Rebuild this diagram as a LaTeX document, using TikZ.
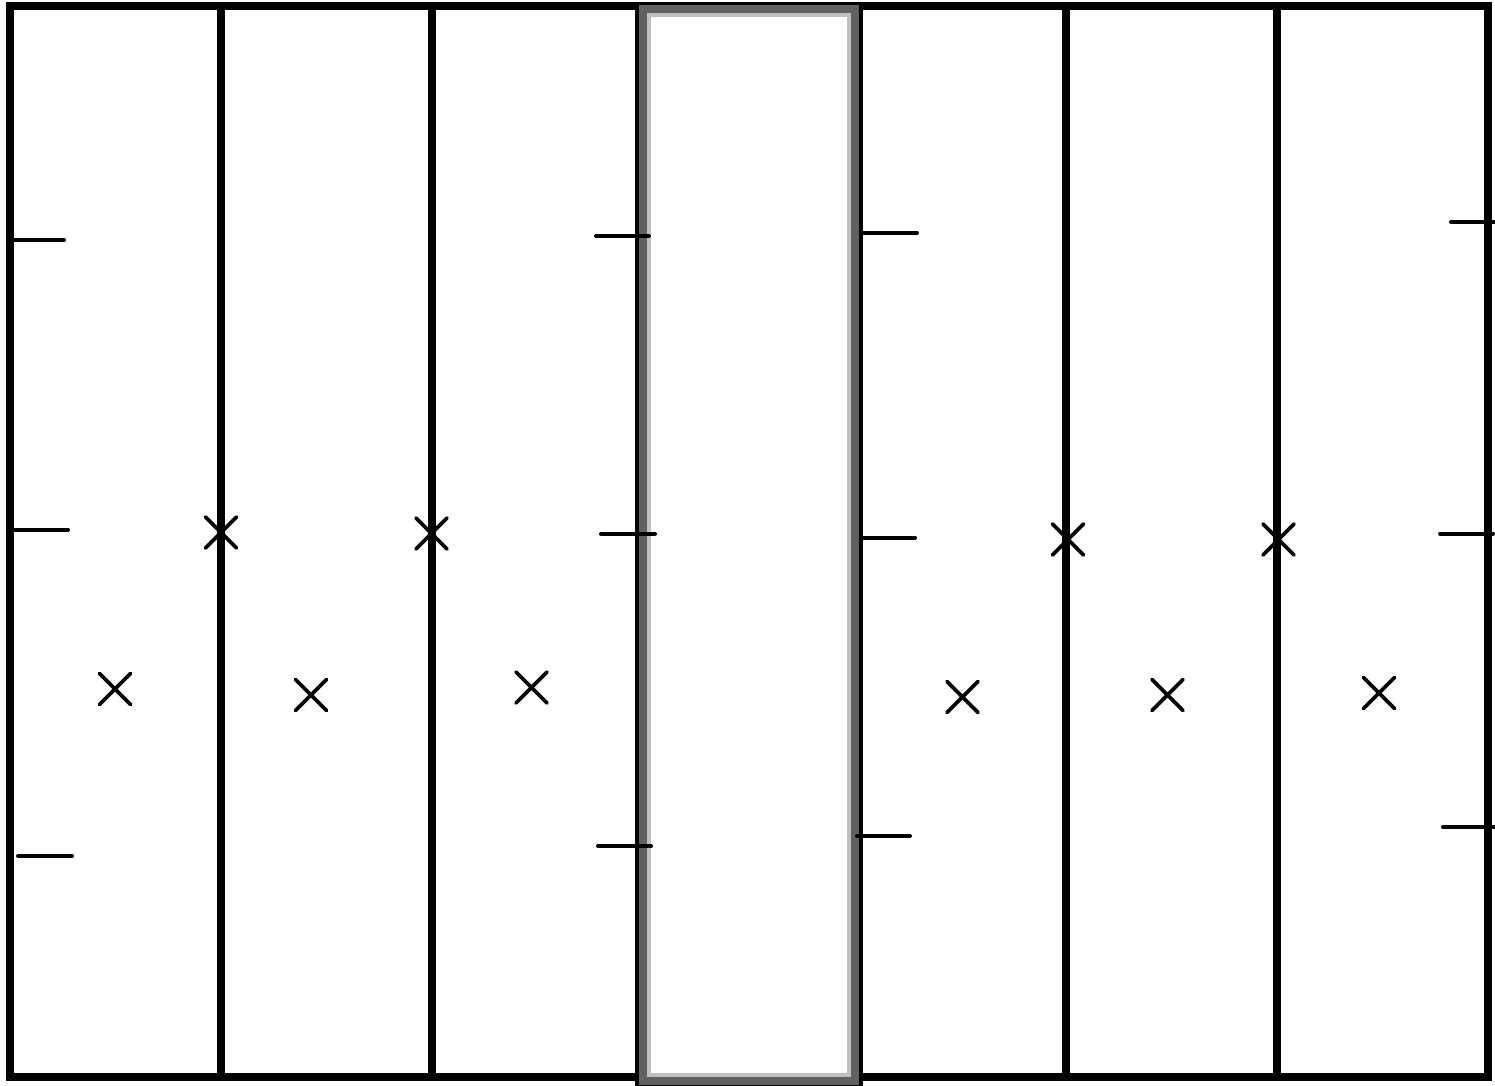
\documentclass[tikz,border=0pt]{standalone}
\begin{document}
\begin{tikzpicture}[x=0.5pt,y=-0.5pt,
  frameline/.style={line width=4pt,draw=black,line cap=rect},
  tickline/.style={line width=2pt,draw=black,line cap=round},
  markline/.style={line width=1.9pt,draw=black,line cap=round},
  xmark/.pic={\draw[markline] (-15.5,-15.5) -- (15.5,15.5) (-15.5,15.5) -- (15.5,-15.5);}]
\useasboundingbox (0,0) rectangle (1495,1086);
\fill[white] (0,0) rectangle (1495,1086);
% outer frame and walls
\draw[frameline] (637,6) -- (10,6) -- (10,1077) -- (637,1077);
\draw[frameline] (861,6) -- (1487.5,6) -- (1487.5,1077) -- (861,1077);
\draw[frameline,line cap=butt] (221,6) -- (221,1077);
\draw[frameline,line cap=butt] (432,6) -- (432,1077);
\draw[frameline,line cap=butt] (1066,6) -- (1066,1077);
\draw[frameline,line cap=butt] (1277,6) -- (1277,1077);
% middle box
\fill[black] (635,2) rectangle (863,1086);
\fill[black!62] (639,5) rectangle (859,1085);
\fill[black!25] (647,13) rectangle (851,1077);
\fill[white] (651,17.5) rectangle (847,1073);
% ticks
\coordinate (t1) at (14,240);   \coordinate (t1e) at (64,240);
\coordinate (t2) at (14,529.5); \coordinate (t2e) at (68,529.5);
\coordinate (t3) at (18,856);   \coordinate (t3e) at (72,856);
\coordinate (t4) at (596,236);  \coordinate (t4e) at (649,236);
\coordinate (t5) at (601,533.5);\coordinate (t5e) at (655,533.5);
\coordinate (t6) at (598,846);  \coordinate (t6e) at (651,846);
\coordinate (t7) at (863,232.5);\coordinate (t7e) at (917,232.5);
\coordinate (t8) at (863,537.5);\coordinate (t8e) at (915,537.5);
\coordinate (t9) at (857,836);  \coordinate (t9e) at (910,836);
\coordinate (t10) at (1451,222);\coordinate (t10e) at (1495,222);
\coordinate (t11) at (1440,533.5);\coordinate (t11e) at (1493,533.5);
\coordinate (t12) at (1443,827);\coordinate (t12e) at (1495,827);
\foreach \i in {1,...,12} \draw[tickline] (t\i) -- (t\i e);
% crosses
\pic at (221,532.5) {xmark};
\pic at (431.5,533.5) {xmark};
\pic at (115,689) {xmark};
\pic at (311,695) {xmark};
\pic at (531.5,687.5) {xmark};
\pic at (962.5,697) {xmark};
\pic at (1068,539.5) {xmark};
\pic at (1278.5,539.5) {xmark};
\pic at (1167.5,695) {xmark};
\pic at (1379,693) {xmark};
\end{tikzpicture}
\end{document}
